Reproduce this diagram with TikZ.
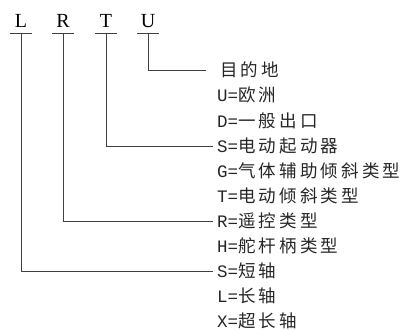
\documentclass[tikz,border=0pt]{standalone}
\usepackage{fontspec}
\setmainfont{Liberation Serif}
\newfontfamily\cjk[LetterSpace=18]{Noto Sans CJK SC}
\newfontfamily\pfx{Liberation Mono}
\newcommand{\pre}[1]{{\pfx\fontsize{17.5}{17.5}\selectfont #1}}
\begin{document}
\begin{tikzpicture}[x=1pt,y=-1pt,
  letter/.style={font=\fontsize{20}{20}\selectfont, inner sep=0pt, anchor=base},
  lbl/.style={font=\cjk\fontsize{17.5}{17.5}\selectfont, inner sep=0pt, anchor=west, text=black!85},
  ln/.style={line width=0.9pt, draw=black!75}]
\useasboundingbox (0,0) rectangle (411,330);
% code letters
\node[letter] (L) at (21,27) {L};
\node[letter] (R) at (63,27) {R};
\node[letter] (T) at (106,27) {T};
\node[letter] (U) at (148,27) {U};
% underline bars
\foreach \n/\x in {l/21,r/63,t/106,u/148}{
  \coordinate (\n bar) at (\x,33);
  \draw[ln] (\x-11,33) -- (\x+11,33);
}
% labels
\def\tx{217}
\node[lbl] (dest) at (\tx+3,70) {目的地};
\node[lbl] (uu) at (\tx,95) {\pre{U=}欧洲};
\node[lbl] (dd) at (\tx,120.5) {\pre{D=}一般出口};
\node[lbl] (ss) at (\tx,146) {\pre{S=}电动起动器};
\node[lbl] (gg) at (\tx,171) {\pre{G=}气体辅助倾斜类型};
\node[lbl] (tt) at (\tx,196) {\pre{T=}电动倾斜类型};
\node[lbl] (rr) at (\tx,221) {\pre{R=}遥控类型};
\node[lbl] (hh) at (\tx,246) {\pre{H=}舵杆柄类型};
\node[lbl] (sh) at (\tx,271) {\pre{S=}短轴};
\node[lbl] (lo) at (\tx,296) {\pre{L=}长轴};
\node[lbl] (xl) at (\tx,320.5) {\pre{X=}超长轴};
% connectors
\draw[ln] (ubar) |- ([xshift=-14pt]dest.west);
\draw[ln] (tbar) |- ([xshift=-4pt]ss.west);
\draw[ln] (rbar) |- ([xshift=-4pt]rr.west);
\draw[ln] (lbar) |- ([xshift=-4pt]sh.west);
\end{tikzpicture}
\end{document}
